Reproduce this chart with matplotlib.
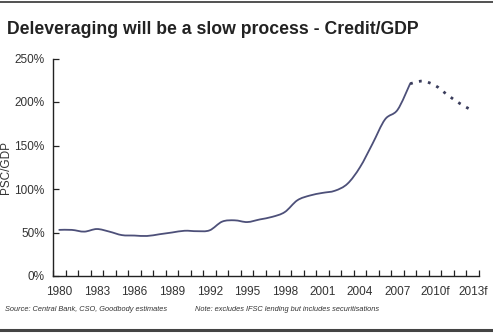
import numpy as np
import matplotlib
matplotlib.use("Agg")
import matplotlib.pyplot as plt
from matplotlib.path import Path
from matplotlib.patches import PathPatch
from matplotlib.ticker import FuncFormatter

plt.rcParams["font.family"] = ["Liberation Sans", "DejaVu Sans"]

# private sector credit as % of GDP (actuals)
years_actual = [1980, 1981, 1982, 1983, 1984, 1985, 1986, 1987, 1988, 1989,
                1990, 1991, 1992, 1993, 1994, 1995, 1996, 1997, 1998, 1999,
                2000, 2001, 2002, 2003, 2004, 2005, 2006, 2007, 2008]
credit_gdp = [53, 53, 51, 54, 51, 47, 46.5, 46, 48, 50,
              52, 51.5, 52.5, 62.5, 64, 62, 65, 68, 73.5, 87,
              92.5, 95.5, 98, 106, 125, 152, 180, 191, 221]

# forecast path
years_fcst = [2008, 2009, 2010, 2011, 2012, 2013]
credit_gdp_fcst = [221, 224, 219, 208, 198, 190]

tick_years = [1980, 1983, 1986, 1989, 1992, 1995, 1998, 2001, 2004, 2007, 2010, 2013]
tick_labels = ["1980", "1983", "1986", "1989", "1992", "1995", "1998", "2001",
               "2004", "2007", "2010f", "2013f"]


def smooth_path(x, y):
    """Bezier path through the points, Catmull-Rom style (spreadsheet 'smoothed line')."""
    x = np.asarray(x, float)
    y = np.asarray(y, float)
    verts = [(x[0], y[0])]
    codes = [Path.MOVETO]
    n = len(x)
    for i in range(n - 1):
        i0 = max(i - 1, 0)
        i3 = min(i + 2, n - 1)
        c1 = (x[i] + (x[i + 1] - x[i0]) / 6, y[i] + (y[i + 1] - y[i0]) / 6)
        c2 = (x[i + 1] - (x[i3] - x[i]) / 6, y[i + 1] - (y[i3] - y[i]) / 6)
        verts += [c1, c2, (x[i + 1], y[i + 1])]
        codes += [Path.CURVE4] * 3
    return Path(verts, codes)


W, H = 493, 333
fig = plt.figure(figsize=(W / 100, H / 100), dpi=100)
ax = fig.add_axes([53 / W, 57 / H, (479 - 53) / W, (276 - 58.5) / H])

ax.add_patch(PathPatch(smooth_path(years_actual, credit_gdp), fill=False,
                       edgecolor="#4d5079", lw=1.3, capstyle="round"))
ax.add_patch(PathPatch(smooth_path(years_fcst, credit_gdp_fcst), fill=False,
                       edgecolor="#3a3d5c", lw=2.0, linestyle=(0, (1, 2.3))))

ax.set_xlim(1979.5, 2013.5)
ax.set_ylim(0, 250)
ax.set_yticks(np.arange(0, 251, 50))
ax.yaxis.set_major_formatter(FuncFormatter(lambda v, _: f"{v:.0f}%"))

# category style axis: ticks between years, labels every third year
ax.set_xticks(np.arange(1979.5, 2014, 1.0))
ax.set_xticklabels([])
ax.set_xticks(tick_years, minor=True)
ax.set_xticklabels(tick_labels, minor=True)
ax.tick_params(axis="x", which="minor", length=0, pad=7, labelsize=8.5, colors="#333333")
ax.tick_params(axis="x", which="major", direction="in", length=4, width=0.9, color="#222222")
ax.tick_params(axis="y", direction="in", length=4, width=0.9, color="#222222",
               labelsize=8.5, labelcolor="#333333", pad=6)

for side in ("top", "right"):
    ax.spines[side].set_visible(False)
for side in ("left", "bottom"):
    ax.spines[side].set_color("#222222")
    ax.spines[side].set_linewidth(1.0)

ax.set_ylabel("PSC/GDP", fontsize=8.5, color="#333333", labelpad=2)

fig.text(7 / W, 1 - 30 / H, "Deleveraging will be a slow process - Credit/GDP",
         fontsize=12.7, fontweight="bold", color="#222222", va="center", ha="left")

fig.text(5 / W, 1 - 309.5 / H, "Source: Central Bank, CSO, Goodbody estimates",
         fontsize=5.35, style="italic", color="#333333", va="center", ha="left")
fig.text(195 / W, 1 - 309.5 / H, "Note: excludes IFSC lending but includes securitisations",
         fontsize=5.35, style="italic", color="#333333", va="center", ha="left")

# frame rules at top and bottom of the panel
fig.add_artist(plt.Line2D([0, 1], [1 - 2 / H, 1 - 2 / H], transform=fig.transFigure,
                          color="#333333", lw=1.2))
fig.add_artist(plt.Line2D([0, 1], [1 - 329.5 / H, 1 - 329.5 / H], transform=fig.transFigure,
                          color="#444444", lw=2.2))

fig.savefig("out.png", dpi=100)
